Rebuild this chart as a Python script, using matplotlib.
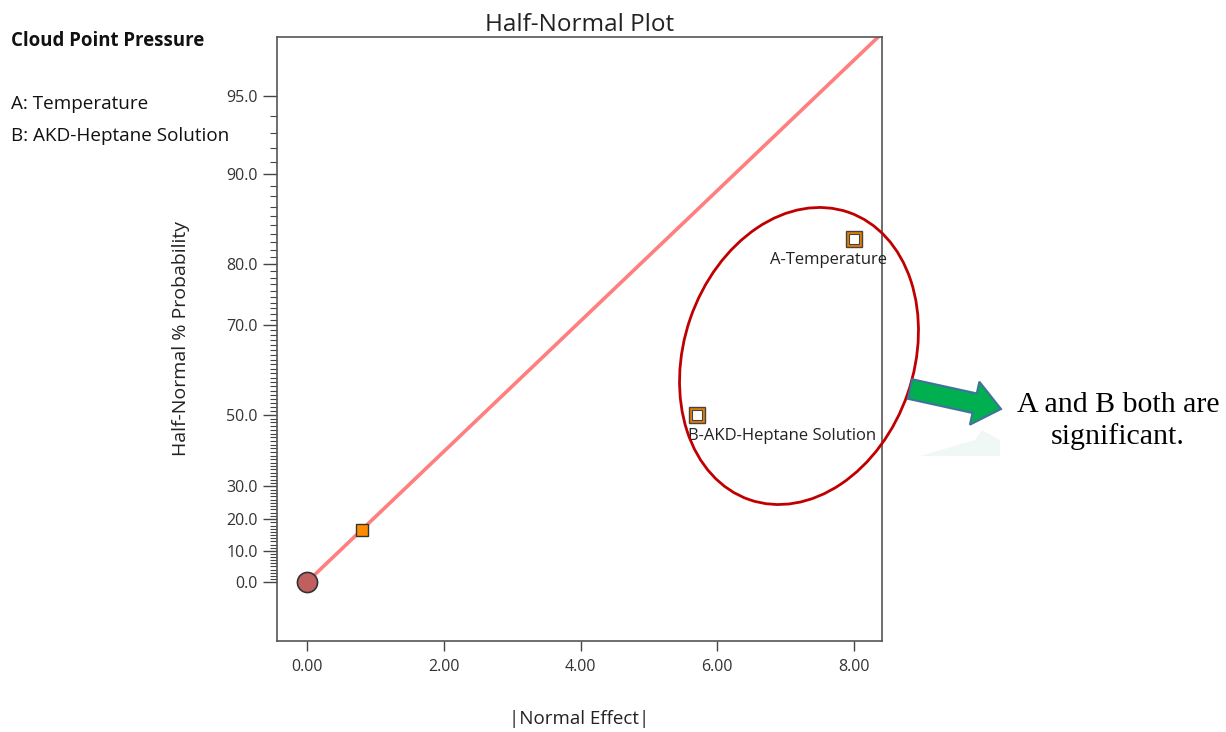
"""
Half-normal plot of effects for cloud point pressure.
"""

from statistics import NormalDist
import matplotlib
matplotlib.use("Agg")
import matplotlib.pyplot as plt
from matplotlib.patches import Ellipse, FancyArrow, Polygon
from matplotlib.transforms import IdentityTransform

# -------------------------------
# Data
# -------------------------------
term_names = ["AB", "B-AKD-Heptane Solution", "A-Temperature"]
term_effects = [0.8, 5.7, 8.0]
term_probs = [16.67, 50.0, 83.33]
significant = [False, True, True]

y_major_ticks = [0, 10, 20, 30, 50, 70, 80, 90, 95]
y_minor_ticks = list(range(0, 96))
x_ticks = [0, 2, 4, 6, 8]


def hn(p):
    # half-normal probability (percent) -> normal quantile
    return NormalDist().inv_cdf(0.5 + p / 200.0)


def main():
    W, H = 1226, 732
    fig = plt.figure(figsize=(W / 100, H / 100), dpi=100)
    plt.rcParams["font.family"] = ["Open Sans", "DejaVu Sans"]

    ax = fig.add_axes([277 / W, 1 - 641 / H, (882 - 277) / W, (641 - 37) / H])
    ax.set_xlim(-0.44, 8.41)
    ax.set_ylim(-0.238, 2.198)

    for s in ax.spines.values():
        s.set_color("#555555")
        s.set_linewidth(1.2)

    # reference line through origin and smallest effect
    slope = hn(term_probs[0]) / term_effects[0]
    ax.plot([0, 10], [0, 10 * slope], color="#ff7f7f", lw=2.6, zorder=2)

    # origin point
    ax.plot([0], [0], "o", ms=14.5, mfc="#c0605e", mec="#333333", mew=1.2, zorder=4)

    # label placement (offset points, alignment) for the significant terms
    label_pos = {"A-Temperature": ((24, -15), "right"),
                 "B-AKD-Heptane Solution": ((-6, -15), "left")}

    for name, x, p, sig in zip(term_names, term_effects, term_probs, significant):
        z = hn(p)
        if sig:
            ax.plot([x], [z], "s", ms=11, mfc="#e67e00", mec="#444444", mew=1.0, zorder=4)
            ax.plot([x], [z], "s", ms=6.5, mfc="white", mec="#444444", mew=0.8, zorder=5)
            off, ha = label_pos[name]
            ax.annotate(name, (x, z), xytext=off, textcoords="offset points",
                        ha=ha, va="center", fontsize=12, color="#222222", zorder=6,
                        annotation_clip=False)
        else:
            ax.plot([x], [z], "s", ms=9, mfc="#ff8c00", mec="#333333", mew=1.0, zorder=4)

    ax.set_xticks(x_ticks)
    ax.set_xticklabels(["%.2f" % v for v in x_ticks])
    ax.set_yticks([hn(p) for p in y_major_ticks])
    ax.set_yticklabels(["%.1f" % p for p in y_major_ticks])
    ax.set_yticks([hn(p) for p in y_minor_ticks], minor=True)
    ax.tick_params(axis="both", which="major", direction="out", length=10, width=1,
                   color="#444444", labelsize=11.5, labelcolor="#333333", pad=4)
    ax.tick_params(axis="y", which="minor", direction="out", length=5, width=0.8,
                   color="#444444")
    ax.tick_params(axis="x", which="major", length=7, pad=6)

    ax.set_title("Half-Normal Plot", fontsize=17.5, color="#222222", pad=-2)
    ax.set_xlabel("|Normal Effect|", fontsize=13.5, color="#222222", labelpad=25)
    ax.set_ylabel("Half-Normal % Probability", fontsize=14, color="#222222", labelpad=26)

    # side text
    fig.text(11 / W, 1 - 41 / H, "Cloud Point Pressure", fontsize=13.4, fontweight="bold",
             va="center", ha="left", color="#111111")
    fig.text(11 / W, 1 - 104 / H, "A: Temperature", fontsize=13.6, va="center", ha="left",
             color="#111111")
    fig.text(11 / W, 1 - 136 / H, "B: AKD-Heptane Solution", fontsize=13.6, va="center",
             ha="left", color="#111111")

    # annotation: ellipse, arrow, note
    ident = IdentityTransform()
    fig.patches.append(Ellipse((799, H - 356), 230, 304, angle=-19, fill=False,
                               edgecolor="#c00000", lw=2, transform=ident, zorder=10))
    fig.patches.append(Polygon([(920, H - 456), (975, H - 440), (982, H - 430),
                                (1000, H - 440), (1000, H - 456)],
                               closed=True, facecolor="#cfeae4", edgecolor="none", alpha=0.3,
                               transform=ident, zorder=9))
    fig.patches.append(FancyArrow(910, H - 389, 91, -20, width=20, head_width=44,
                                  head_length=27, length_includes_head=True,
                                  facecolor="#00b050", edgecolor="#41719c", lw=1.5,
                                  transform=ident, zorder=11))
    fig.text(1118 / W, 1 - 421 / H, "A and B both are\nsignificant.",
             family=["Liberation Serif", "DejaVu Serif"], fontsize=21.5, ha="center",
             va="center", linespacing=1.2, color="black")

    fig.savefig("out.png", dpi=100)
    plt.close(fig)


if __name__ == "__main__":
    main()
